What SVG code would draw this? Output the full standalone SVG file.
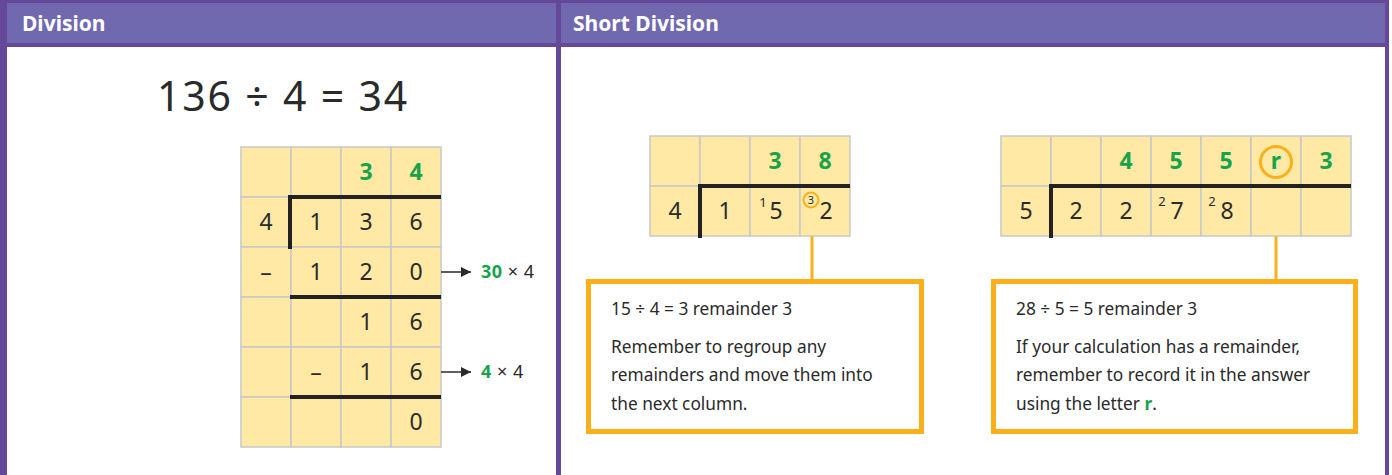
<svg xmlns="http://www.w3.org/2000/svg" width="1392" height="475" viewBox="0 0 1392 475">
<style>
.frame{fill:#66489b}
.hdr{fill:#7169b0}
.htxt{font-family:"Noto Sans","Liberation Sans",sans-serif;font-weight:bold;font-size:21px;fill:#ffffff}
.cell{fill:#ffe9a5;stroke:#c8c8c8;stroke-width:1.5}
.thick{stroke:#222222;stroke-width:4;fill:none}
.d{font-family:"Noto Sans","Liberation Sans",sans-serif;font-size:23px;fill:#2a2a2a;text-anchor:middle}
.g{font-family:"Noto Sans","Liberation Sans",sans-serif;font-size:23px;font-weight:bold;fill:#16a34a;text-anchor:middle}
.sup{font-family:"Noto Sans","Liberation Sans",sans-serif;font-size:13px;fill:#2a2a2a;text-anchor:middle}
.body{font-family:"Noto Sans","Liberation Sans",sans-serif;font-size:17.3px;fill:#2a2a2a}
.lab{font-family:"Noto Sans","Liberation Sans",sans-serif;font-size:18px;fill:#2a2a2a}
.gb{font-weight:bold;fill:#16a34a}
.box{fill:#ffffff;stroke:#fbb01a;stroke-width:5}
.oline{stroke:#fbb01a;stroke-width:3;fill:none}
.arrow{stroke:#2a2a2a;stroke-width:1.5;fill:none}
</style>
<defs>
<marker id="ah" viewBox="0 0 10 10" refX="10" refY="5" markerWidth="10" markerHeight="10" markerUnits="userSpaceOnUse" orient="auto">
<path d="M0,0 L10,5 L0,10 z" fill="#2a2a2a"/>
</marker>
</defs>
<rect x="0" y="0" width="1392" height="475" fill="#ffffff"/>
<g id="frame">
<rect class="hdr" x="7" y="3" width="1378" height="40"/>
<rect class="frame" x="0" y="0" width="1389" height="3"/>
<rect class="frame" x="0" y="0" width="7" height="475"/>
<rect class="frame" x="1385" y="0" width="4" height="475"/>
<rect class="frame" x="556" y="0" width="5" height="475"/>
<rect class="frame" x="0" y="43" width="1389" height="4"/>
<text class="htxt" x="22" y="31">Division</text>
<text class="htxt" x="573" y="31">Short Division</text>
</g>
<g id="title">
<text x="283" y="111" text-anchor="middle" font-family="Noto Sans, Liberation Sans, sans-serif" font-size="41" letter-spacing="1.8" fill="#2a2a2a">136 ÷ 4 = 34</text>
</g>
<g id="long-division">
<g>
<rect class="cell" x="241" y="147" width="50" height="50"/><rect class="cell" x="291" y="147" width="50" height="50"/><rect class="cell" x="341" y="147" width="50" height="50"/><rect class="cell" x="391" y="147" width="50" height="50"/>
<rect class="cell" x="241" y="197" width="50" height="50"/><rect class="cell" x="291" y="197" width="50" height="50"/><rect class="cell" x="341" y="197" width="50" height="50"/><rect class="cell" x="391" y="197" width="50" height="50"/>
<rect class="cell" x="241" y="247" width="50" height="50"/><rect class="cell" x="291" y="247" width="50" height="50"/><rect class="cell" x="341" y="247" width="50" height="50"/><rect class="cell" x="391" y="247" width="50" height="50"/>
<rect class="cell" x="241" y="297" width="50" height="50"/><rect class="cell" x="291" y="297" width="50" height="50"/><rect class="cell" x="341" y="297" width="50" height="50"/><rect class="cell" x="391" y="297" width="50" height="50"/>
<rect class="cell" x="241" y="347" width="50" height="50"/><rect class="cell" x="291" y="347" width="50" height="50"/><rect class="cell" x="341" y="347" width="50" height="50"/><rect class="cell" x="391" y="347" width="50" height="50"/>
<rect class="cell" x="241" y="397" width="50" height="50"/><rect class="cell" x="291" y="397" width="50" height="50"/><rect class="cell" x="341" y="397" width="50" height="50"/><rect class="cell" x="391" y="397" width="50" height="50"/>
</g>
<path class="thick" d="M290,249 V197 H441"/>
<path class="thick" d="M290,297 H441 M290,397 H441"/>
<text class="g" x="366" y="180">3</text><text class="g" x="416" y="180">4</text>
<text class="d" x="266" y="230">4</text><text class="d" x="316" y="230">1</text><text class="d" x="366" y="230">3</text><text class="d" x="416" y="230">6</text>
<text class="d" x="266" y="280">–</text><text class="d" x="316" y="280">1</text><text class="d" x="366" y="280">2</text><text class="d" x="416" y="280">0</text>
<text class="d" x="366" y="330">1</text><text class="d" x="416" y="330">6</text>
<text class="d" x="316" y="380">–</text><text class="d" x="366" y="380">1</text><text class="d" x="416" y="380">6</text>
<text class="d" x="416" y="430">0</text>
</g>
<g id="connectors">
<line class="arrow" x1="441" y1="272" x2="471" y2="272" marker-end="url(#ah)"/>
<line class="arrow" x1="441" y1="372" x2="471" y2="372" marker-end="url(#ah)"/>
<line class="oline" x1="812" y1="208" x2="812" y2="282"/>
<line class="oline" x1="1276" y1="178" x2="1276" y2="282"/>
</g>
<g id="label-30x4"><text class="lab" x="481" y="278" letter-spacing="0.5"><tspan class="gb">30</tspan> × 4</text></g>
<g id="label-4x4"><text class="lab" x="481" y="378" letter-spacing="0.5"><tspan class="gb">4</tspan> × 4</text></g>
<g id="short-division-1">
<rect class="cell" x="650" y="136" width="50" height="50"/><rect class="cell" x="700" y="136" width="50" height="50"/><rect class="cell" x="750" y="136" width="50" height="50"/><rect class="cell" x="800" y="136" width="50" height="50"/>
<rect class="cell" x="650" y="186" width="50" height="50"/><rect class="cell" x="700" y="186" width="50" height="50"/><rect class="cell" x="750" y="186" width="50" height="50"/><rect class="cell" x="800" y="186" width="50" height="50"/>
<path class="thick" d="M700,238 V186 H850"/>
<text class="g" x="775" y="169">3</text><text class="g" x="825" y="169">8</text>
<text class="d" x="675" y="219">4</text><text class="d" x="725" y="219">1</text>
<text class="sup" x="763" y="207">1</text><text class="d" x="776" y="219">5</text>
<circle cx="811" cy="200" r="7.5" fill="#ffe9a5" stroke="#fbb01a" stroke-width="2"/>
<text x="811" y="204" text-anchor="middle" font-family="Noto Sans, Liberation Sans, sans-serif" font-size="11" fill="#2a2a2a">3</text>
<text class="d" x="826" y="219">2</text>
</g>
<g id="short-division-2">
<rect class="cell" x="1001" y="136" width="50" height="50"/><rect class="cell" x="1051" y="136" width="50" height="50"/><rect class="cell" x="1101" y="136" width="50" height="50"/><rect class="cell" x="1151" y="136" width="50" height="50"/><rect class="cell" x="1201" y="136" width="50" height="50"/><rect class="cell" x="1251" y="136" width="50" height="50"/><rect class="cell" x="1301" y="136" width="50" height="50"/>
<rect class="cell" x="1001" y="186" width="50" height="50"/><rect class="cell" x="1051" y="186" width="50" height="50"/><rect class="cell" x="1101" y="186" width="50" height="50"/><rect class="cell" x="1151" y="186" width="50" height="50"/><rect class="cell" x="1201" y="186" width="50" height="50"/><rect class="cell" x="1251" y="186" width="50" height="50"/><rect class="cell" x="1301" y="186" width="50" height="50"/>
<path class="thick" d="M1051,238 V186 H1351"/>
<text class="g" x="1126" y="169">4</text><text class="g" x="1176" y="169">5</text><text class="g" x="1226" y="169">5</text>
<circle cx="1276" cy="162" r="15.5" fill="none" stroke="#fbb01a" stroke-width="3"/>
<text class="g" x="1276" y="169">r</text>
<text class="g" x="1326" y="169">3</text>
<text class="d" x="1026" y="219">5</text><text class="d" x="1076" y="219">2</text><text class="d" x="1126" y="219">2</text>
<text class="sup" x="1162" y="206">2</text><text class="d" x="1177" y="219">7</text>
<text class="sup" x="1212" y="206">2</text><text class="d" x="1227" y="219">8</text>
</g>
<g id="note-1">
<rect class="box" x="588.5" y="281.5" width="333" height="150"/>
<text class="body" x="611" y="315">15 ÷ 4 = 3 remainder 3</text>
<text class="body" x="611" y="353">Remember to regroup any</text>
<text class="body" x="611" y="381">remainders and move them into</text>
<text class="body" x="611" y="410">the next column.</text>
</g>
<g id="note-2">
<rect class="box" x="993.5" y="281.5" width="362" height="150"/>
<text class="body" x="1016" y="315">28 ÷ 5 = 5 remainder 3</text>
<text class="body" x="1016" y="353">If your calculation has a remainder,</text>
<text class="body" x="1016" y="381">remember to record it in the answer</text>
<text class="body" x="1016" y="410">using the letter <tspan class="gb">r</tspan>.</text>
</g>
</svg>
